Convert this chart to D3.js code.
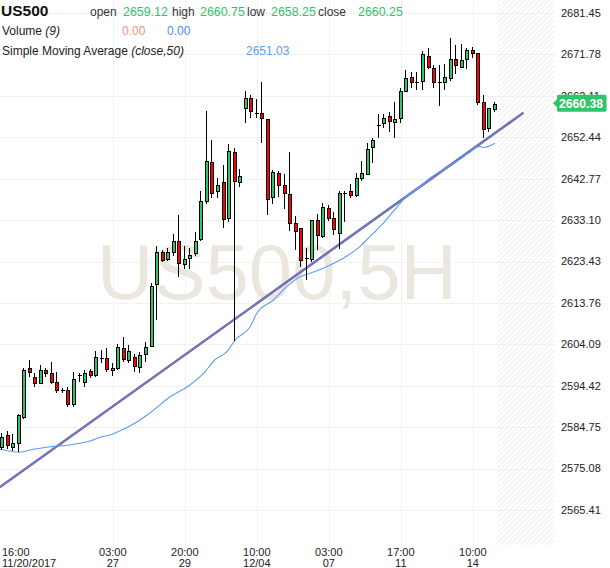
<!DOCTYPE html>
<html><head><meta charset="utf-8">
<script src="https://cdn.jsdelivr.net/npm/d3@7"></script>
<style>
body{margin:0;background:#fff;}
svg{display:block;font-family:"Liberation Sans",Arial,sans-serif;}
</style></head><body>
<svg id="c" width="610" height="568"></svg>
<script>
// ---------- data ----------
const opens  = [2580.05,2582.85,2580.19,2581.12,2587.19,2598.49,2596.53,2594.99,2598.03,2597.40,
                2595.23,2593.33,2593.36,2590.16,2596.93,2595.23,2597.79,2596.93,2600.97,2600.83,
                2598.03,2598.49,2603.16,2600.43,2601.06,2598.87,2601.83,2603.77,2618.11,2625.58,
                2624.01,2625.58,2628.22,2622.85,2624.18,2625.34,2628.75,2637.56,2646.59,2639.89,
                2641.92,2633.52,2648.93,2641.92,2659.20,2661.53,2658.17,2658.03,2656.63,2638.42,
                2644.02,2641.29,2639.19,2632.35,2631.18,2624.18,2624.01,2633.05,2629.38,2635.85,
                2633.66,2630.15,2639.49,2639.89,2638.96,2642.86,2643.79,2650.09,2655.37,2655.70,
                2657.40,2656.07,2656.86,2663.24,2666.44,2665.41,2665.57,2671.41,2668.54,2665.27,
                2665.41,2666.20,2670.71,2668.91,2670.64,2672.81,2672.04,2660.60,2654.53,2659.12];
const highs  = [2583.39,2583.86,2583.15,2587.82,2598.56,2600.43,2597.47,2599.27,2598.49,2599.89,
                2597.56,2593.89,2594.20,2597.70,2597.47,2598.10,2598.33,2602.60,2602.77,2603.30,
                2599.66,2604.17,2605.73,2603.93,2601.83,2602.30,2604.70,2618.34,2627.05,2626.12,
                2626.51,2629.78,2634.29,2627.05,2626.65,2630.39,2639.89,2658.57,2651.80,2643.00,
                2645.96,2650.79,2649.86,2645.03,2663.24,2662.30,2661.37,2665.41,2656.70,2644.79,
                2644.56,2643.79,2648.93,2634.05,2631.25,2626.51,2633.12,2634.45,2637.02,2636.62,
                2635.06,2639.89,2639.89,2641.52,2644.02,2646.90,2651.03,2652.34,2657.80,2657.80,
                2658.41,2660.74,2664.01,2668.14,2667.74,2667.74,2672.65,2673.21,2669.31,2669.31,
                2669.47,2675.54,2673.98,2674.21,2673.21,2673.44,2672.11,2662.30,2659.27,2660.75];
const lows   = [2579.42,2579.65,2579.26,2579.02,2586.59,2596.53,2594.20,2594.83,2596.53,2594.83,
                2592.80,2592.73,2589.53,2589.53,2595.37,2594.20,2596.30,2596.53,2599.66,2597.70,
                2596.70,2598.10,2600.04,2599.73,2597.63,2597.40,2599.96,2603.47,2609.77,2623.24,
                2623.62,2624.78,2619.88,2621.61,2621.61,2624.78,2628.22,2636.78,2638.33,2638.33,
                2631.18,2632.58,2604.87,2640.89,2655.70,2656.86,2656.86,2651.03,2634.29,2636.78,
                2638.56,2635.69,2630.62,2626.12,2622.22,2619.11,2623.38,2626.05,2628.85,2632.89,
                2629.62,2626.35,2632.72,2638.33,2638.56,2642.23,2643.63,2646.36,2652.34,2654.53,
                2653.74,2652.34,2655.70,2663.08,2663.87,2663.47,2663.47,2668.31,2663.87,2659.74,
                2663.47,2665.57,2667.14,2668.54,2668.31,2670.87,2659.97,2652.19,2653.74,2658.25];
const closes = [2582.38,2580.52,2580.98,2587.52,2598.10,2597.70,2594.99,2598.03,2597.33,2595.37,
                2593.36,2593.33,2590.16,2596.07,2596.93,2597.33,2596.86,2601.06,2600.97,2598.33,
                2598.56,2603.40,2600.60,2602.60,2599.03,2601.60,2603.54,2617.71,2625.58,2623.78,
                2625.58,2628.22,2623.01,2624.01,2624.95,2628.22,2637.56,2646.90,2639.35,2641.29,
                2633.28,2649.23,2642.16,2643.46,2661.53,2658.57,2658.17,2656.86,2637.95,2644.26,
                2641.29,2639.35,2632.35,2630.62,2623.78,2624.18,2633.05,2629.62,2636.08,2633.52,
                2631.02,2639.35,2639.49,2638.96,2642.86,2644.02,2649.63,2651.80,2655.37,2656.86,
                2656.23,2656.63,2663.24,2666.20,2665.27,2665.41,2671.88,2668.77,2665.41,2665.27,
                2666.44,2670.71,2669.31,2670.48,2672.81,2672.04,2660.60,2654.30,2659.20,2660.25];

const smaIdx = [-0.36,2,3.25,5.6,8.66,12.27,14.08,15.88,17.69,19.5,21.3,23.1,26.7,30.3,33.9,36.6,38.4,40.6,42.1,44.8,
                46.0,49.0,51.4,53.8,55.6,58.6,61.6,64.6,66.4,68.8,70.6,73.0,75.5,77.3,80.9,84.5,86.1,87.0,89];
const smaVal = [2579.65,2579.02,2578.95,2579.58,2580.19,2580.59,2580.98,2581.52,2582.38,2582.92,2583.93,2585.02,
                2588.06,2591.79,2594.60,2597.63,2600.43,2602.37,2605.10,2608.21,2611.34,2614.44,2617.55,2619.88,
                2620.67,2622.22,2624.18,2626.89,2629.22,2632.35,2635.06,2638.56,2640.89,2642.93,2645.73,2649.00,
                2650.30,2650.05,2651.03];

// trend line end points (candle index, price)
const trendIdx = [-0.36, 94];
const trendVal = [2570.78, 2658.03];

// axis ticks
const yTickLabels = ["2681.45","2671.78","2662.11","2652.44","2642.77","2633.10","2623.43",
                     "2613.76","2604.09","2594.42","2584.75","2575.08","2565.41"];
const xTickIdx    = [0, 20, 33, 46, 59, 72, 85];
const xTickTime   = ["16:00","03:00","20:00","10:00","03:00","17:00","10:00"];
const xTickDate   = ["11/20/2017","27","29","12/04","07","11","14"];

// header values
const symbol = "US500";
const ohlcNames  = ["open","high","low","close"];
const ohlcValues = ["2659.12","2660.75","2658.25","2660.25"];
const volumeValues = ["0.00","0.00"];
const smaLast = "2651.03";
const lastPrice = "2660.38";
const watermark = "US500,5H";

// ---------- drawing ----------
const GREEN = "#2ec468", RED = "#ff0000";
const svg = d3.select("#c");
const x = d3.scaleLinear().domain([0, 89]).range([2, 495]);
const y = d3.scaleLinear().domain([+yTickLabels[12], +yTickLabels[0]]).range([510, 13]);
const plotRight = 555, plotBottom = 545;

const defs = svg.append("defs");
defs.append("clipPath").attr("id","clip").append("rect")
  .attr("x",0).attr("y",0).attr("width",plotRight).attr("height",plotBottom);
const pat = defs.append("pattern").attr("id","hatch").attr("patternUnits","userSpaceOnUse")
  .attr("width",5).attr("height",5);
pat.append("path").attr("d","M-1,1 l2,-2 M0,5 l5,-5 M4,6 l2,-2")
  .attr("stroke","#ececec").attr("stroke-width",1);

svg.append("rect").attr("width",610).attr("height",568).attr("fill","#fff");

// grid
const grid = svg.append("g");
grid.selectAll("line.h").data(yTickLabels).join("line")
  .attr("x1",0).attr("x2",plotRight)
  .attr("y1",d=>Math.round(y(+d))+0.5).attr("y2",d=>Math.round(y(+d))+0.5)
  .attr("stroke","#f1f1f1");
grid.selectAll("line.v").data(xTickIdx.slice(1)).join("line")
  .attr("x1",d=>Math.round(x(d))+0.5).attr("x2",d=>Math.round(x(d))+0.5)
  .attr("y1",0).attr("y2",plotBottom).attr("stroke","#f1f1f1");

// hatched future area
svg.append("rect").attr("x",498).attr("y",0).attr("width",plotRight-498).attr("height",plotBottom)
  .attr("fill","url(#hatch)");

// watermark
svg.append("text").attr("x",277).attr("y",299).attr("text-anchor","middle")
  .attr("font-size",78).attr("fill","#ebe7df").text(watermark);

const plot = svg.append("g").attr("clip-path","url(#clip)");

// trend line
plot.append("line")
  .attr("x1",x(trendIdx[0])).attr("y1",y(trendVal[0]))
  .attr("x2",x(trendIdx[1])).attr("y2",y(trendVal[1]))
  .attr("stroke","#7272b6").attr("stroke-width",2.6).attr("stroke-linecap","round");

// SMA
const smaPts = smaIdx.map((d,i)=>[d, smaVal[i]]);
plot.append("path").datum(smaPts)
  .attr("d", d3.line().x(d=>x(d[0])).y(d=>y(d[1])).curve(d3.curveMonotoneX))
  .attr("fill","none").attr("stroke","#5b9cf6").attr("stroke-width",1.1);

// candles
const candles = opens.map((o,i)=>({i,o,h:highs[i],l:lows[i],c:closes[i]}));
const cg = plot.append("g");
cg.selectAll("line.wick").data(candles).join("line")
  .attr("x1",d=>Math.round(x(d.i))-0.5).attr("x2",d=>Math.round(x(d.i))-0.5)
  .attr("y1",d=>Math.round(y(d.h))).attr("y2",d=>Math.round(y(d.l)))
  .attr("stroke","#000").attr("stroke-width",1);
candles.forEach(d=>{
  const r = Math.round(x(d.i));
  const t = Math.round(y(Math.max(d.o,d.c)));
  const b = Math.round(y(Math.min(d.o,d.c)));
  if (b - t < 1) {
    cg.append("line").attr("x1",r-2).attr("x2",r+2).attr("y1",t+0.5).attr("y2",t+0.5)
      .attr("stroke","#000").attr("stroke-width",1);
  } else {
    cg.append("rect").attr("x",r-1.5).attr("y",t+0.5).attr("width",3).attr("height",b-t)
      .attr("fill", d.c >= d.o ? GREEN : RED).attr("stroke","#000").attr("stroke-width",1);
  }
});

// y axis labels
svg.append("g").selectAll("text").data(yTickLabels).join("text")
  .attr("x",561).attr("y",d=>y(+d)).attr("dy","0.35em")
  .attr("font-size",11).attr("fill","#222").text(d=>d);

// last price label
const py = y(+lastPrice);
svg.append("path")
  .attr("d",`M553,${py} L557,${py-4} L557,${py-7} Q557,${py-8.5} 558.5,${py-8.5} L605,${py-8.5} Q606.5,${py-8.5} 606.5,${py-7} L606.5,${py+7} Q606.5,${py+8.5} 605,${py+8.5} L558.5,${py+8.5} Q557,${py+8.5} 557,${py+7} L557,${py+4} Z`)
  .attr("fill",GREEN);
svg.append("text").attr("x",559).attr("y",py).attr("dy","0.36em")
  .attr("font-size",12.2).attr("font-weight","bold").attr("fill","#fff").text(lastPrice);

// x axis labels
const xl = svg.append("g");
xTickIdx.forEach((idx,k)=>{
  const anchor = k===0 ? "start" : "middle";
  const xx = k===0 ? 2 : x(idx);
  xl.append("text").attr("x",xx).attr("y",556).attr("text-anchor",anchor)
    .attr("font-size",11).attr("fill","#222").text(xTickTime[k]);
  xl.append("text").attr("x",xx).attr("y",567).attr("text-anchor",anchor)
    .attr("font-size",11).attr("fill","#222").text(xTickDate[k]);
});

// header / legend
const hd = svg.append("g");
hd.append("text").attr("x",1).attr("y",16).attr("font-size",15.5).attr("font-weight","bold")
  .attr("fill","#111").text(symbol);
const nameX = [90,172,247,318], valX = [123,200,271,358];
ohlcNames.forEach((n,k)=>{
  hd.append("text").attr("x",nameX[k]).attr("y",16).attr("font-size",12).attr("fill","#333").text(n);
  hd.append("text").attr("x",valX[k]).attr("y",16).attr("font-size",12.4).attr("fill",GREEN).text(ohlcValues[k]);
});
const vt = hd.append("text").attr("x",2).attr("y",35).attr("font-size",12).attr("fill","#222");
vt.append("tspan").text("Volume ");
vt.append("tspan").attr("font-style","italic").text("(9)");
hd.append("text").attr("x",122).attr("y",35).attr("font-size",12).attr("fill","#e8928a").text(volumeValues[0]);
hd.append("text").attr("x",167).attr("y",35).attr("font-size",12).attr("fill","#4e8ef5").text(volumeValues[1]);
const st = hd.append("text").attr("x",2).attr("y",55).attr("font-size",12).attr("fill","#222");
st.append("tspan").text("Simple Moving Average ");
st.append("tspan").attr("font-style","italic").text("(close,50)");
hd.append("text").attr("x",246).attr("y",55).attr("font-size",12).attr("fill","#5b9cf6").text(smaLast);
</script>
</body></html>
